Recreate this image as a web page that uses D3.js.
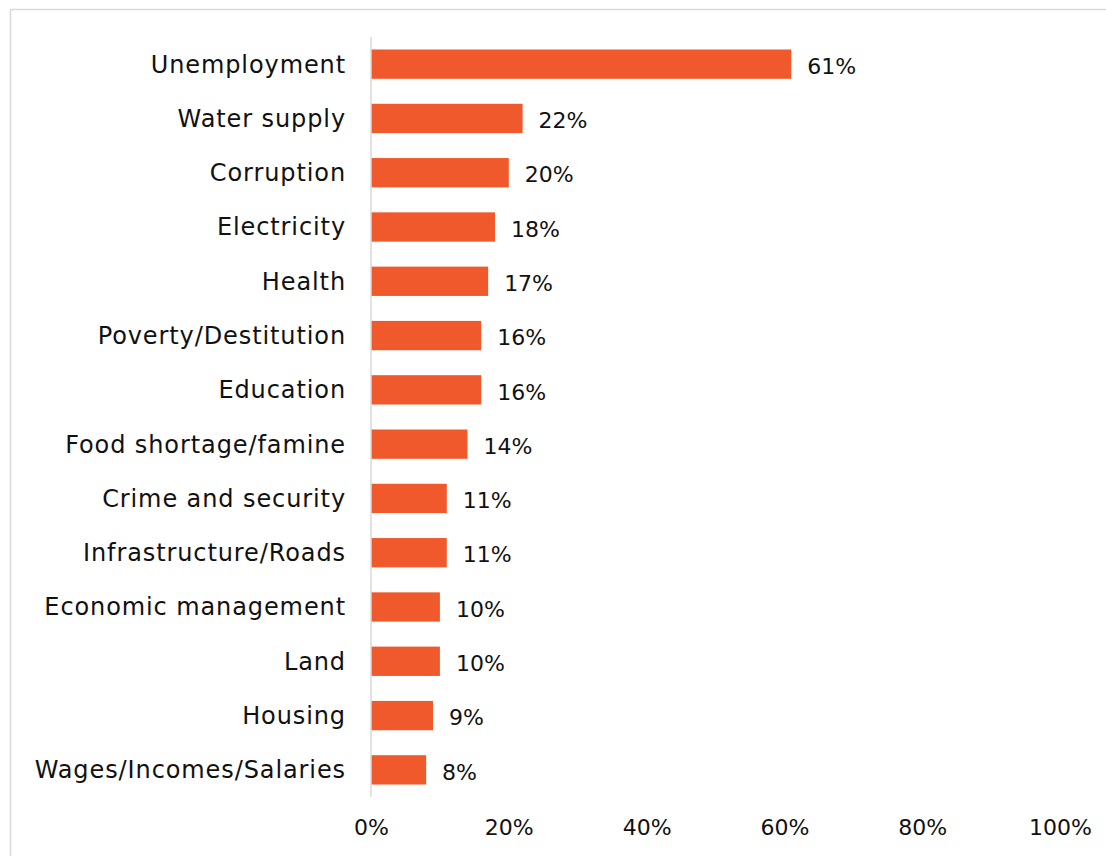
<!DOCTYPE html>
<html>
<head>
<meta charset="utf-8">
<script src="https://cdn.jsdelivr.net/npm/d3@7"></script>
<style>
  body { margin: 0; background: #fff; }
  svg text { font-family: "DejaVu Sans", sans-serif; fill: #111; }
</style>
</head>
<body>
<svg id="chart" width="1106" height="856"></svg>
<script>
var categories = ["Unemployment", "Water supply", "Corruption", "Electricity", "Health",
    "Poverty/Destitution", "Education", "Food shortage/famine", "Crime and security",
    "Infrastructure/Roads", "Economic management", "Land", "Housing", "Wages/Incomes/Salaries"];
var values = [61, 22, 20, 18, 17, 16, 16, 14, 11, 11, 10, 10, 9, 8];
var tickValues = [0, 20, 40, 60, 80, 100];

var svg = d3.select("#chart");

// outer chart frame
svg.append("rect")
    .attr("x", 10.5).attr("y", 9.5)
    .attr("width", 1110).attr("height", 860)
    .attr("fill", "none").attr("stroke", "#d9d9d9").attr("stroke-width", 1.5);

var x = d3.scaleLinear().domain([0, 100]).range([371, 1060]);
var y = d3.scaleBand().domain(categories).range([37, 797]).paddingInner(0.46).paddingOuter(0.23);

var color = "#f0592b";

svg.selectAll(".bar")
    .data(values)
    .enter().append("rect")
    .attr("class", "bar")
    .attr("x", x(0))
    .attr("y", function (d, i) { return y(categories[i]); })
    .attr("width", function (d) { return x(d) - x(0); })
    .attr("height", y.bandwidth())
    .attr("fill", color);

// vertical axis line
svg.append("line")
    .attr("x1", x(0)).attr("x2", x(0))
    .attr("y1", 37).attr("y2", 797)
    .attr("stroke", "#d9d9d9").attr("stroke-width", 1.5);

// category labels
svg.selectAll(".cat")
    .data(categories)
    .enter().append("text")
    .attr("class", "cat")
    .attr("x", 346)
    .attr("y", function (d) { return y(d) + y.bandwidth() / 2; })
    .attr("dy", "0.35em")
    .attr("text-anchor", "end")
    .style("font-size", "24px")
    .style("letter-spacing", "0.9px")
    .text(function (d) { return d; });

// value labels
svg.selectAll(".val")
    .data(values)
    .enter().append("text")
    .attr("class", "val")
    .attr("x", function (d) { return x(d) + 16; })
    .attr("y", function (d, i) { return y(categories[i]) + y.bandwidth() / 2 + 2; })
    .attr("dy", "0.35em")
    .style("font-size", "22px")
    .text(function (d) { return d + "%"; });

// x axis tick labels
var xAxis = svg.append("g")
    .attr("transform", "translate(0,797)")
    .call(d3.axisBottom(x).tickValues(tickValues).tickSize(0).tickPadding(22)
        .tickFormat(function (d) { return d + "%"; }));
xAxis.select(".domain").remove();
xAxis.selectAll("text")
    .style("font-size", "22px")
    .style("font-family", "'DejaVu Sans', sans-serif")
    .attr("fill", "#111");
</script>
</body>
</html>
